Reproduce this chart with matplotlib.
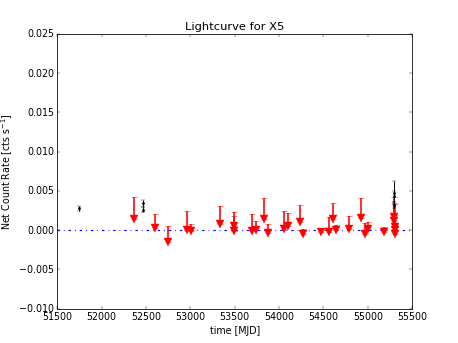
import matplotlib
matplotlib.use("Agg")
import matplotlib.pyplot as plt

# --- detections (MJD, rate, error) ---
det_mjd = [51748, 52466, 52466, 55297, 55297, 55297]
det_rate = [0.0028, 0.0034, 0.0026, 0.0047, 0.0043, 0.0032]
det_err = [0.0003, 0.0004, 0.0003, 0.0015, 0.0007, 0.0004]

# --- upper limits (MJD, measured rate, upper limit) ---
ul_mjd = [52364, 52596, 52743, 52961, 53006, 53337, 53487, 53494, 53700, 53742,
          53825, 53878, 54058, 54106, 54238, 54275, 54471, 54557, 54602, 54644,
          54790, 54922, 54971, 55001, 55185, 55297, 55299, 55301, 55303, 55305]
ul_rate = [0.00143, 0.00026, -0.00153, 0.00005, -0.00013, 0.00082, -0.00017, 0.00054,
           -0.00013, -0.00004, 0.00146, -0.00038, 0.00010, 0.00051, 0.00102, -0.00046,
           -0.00026, -0.00026, 0.00137, -0.00004, 0.00018, 0.00153, -0.00046, 0.00010,
           -0.00026, 0.00166, 0.00115, 0.00038, -0.00004, -0.00046]
ul_top = [0.00418, 0.00209, 0.00051, 0.00243, 0.00082, 0.00303, 0.00230, 0.00175,
          0.00200, 0.00115, 0.00414, 0.00082, 0.00243, 0.00217, 0.00324, 0.00018,
          0.00031, 0.00166, 0.00350, 0.00069, 0.00179, 0.00414, 0.00095, 0.00098,
          0.00038, 0.00422, 0.00345, 0.00328, 0.00197, 0.00060]

plt.style.use("classic")
plt.rcParams["mathtext.fontset"] = "dejavusans"
fig, ax = plt.subplots(figsize=(8, 6), dpi=57.25)
fig.patch.set_facecolor("white")

up = [t - r for t, r in zip(ul_top, ul_rate)]
eb = ax.errorbar(ul_mjd, ul_rate, yerr=[[0] * len(up), up], fmt="v", color="red",
                 ecolor="red", mec="red", markersize=9, capsize=4, elinewidth=2,
                 capthick=1)
for cap in eb[1]:
    cap.set_alpha(0.6)
ax.errorbar(det_mjd, det_rate, yerr=det_err, fmt=".", color="black",
            ecolor="black", markersize=6, capsize=3, elinewidth=1.2)

ax.axhline(0, color="blue", linestyle="-.", linewidth=1.5)

ax.set_xlim(51500, 55500)
ax.set_ylim(-0.010, 0.025)
ax.set_xlabel("time [MJD]")
ax.set_ylabel("Net Count Rate [cts s$^{-1}$]")
ax.set_title("Lightcurve for X5")

fig.savefig("out.png", dpi=57.25, facecolor="white")
